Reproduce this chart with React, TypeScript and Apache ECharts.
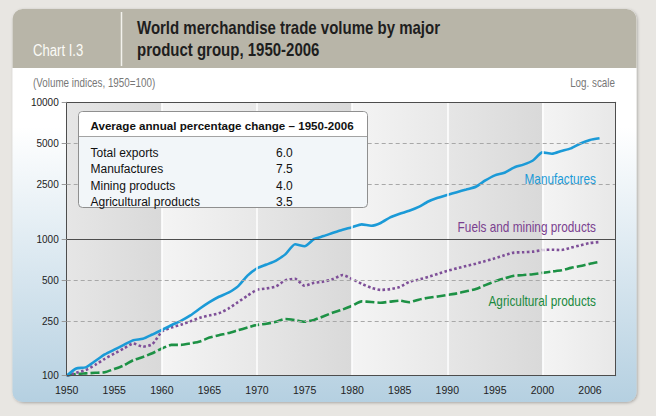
import React, { useEffect, useRef } from 'react';
import * as echarts from 'echarts';

const years = [
  1950, 1951, 1952, 1953, 1954, 1955, 1956, 1957, 1958, 1959,
  1960, 1961, 1962, 1963, 1964, 1965, 1966, 1967, 1968, 1969,
  1970, 1971, 1972, 1973, 1974, 1975, 1976, 1977, 1978, 1979,
  1980, 1981, 1982, 1983, 1984, 1985, 1986, 1987, 1988, 1989,
  1990, 1991, 1992, 1993, 1994, 1995, 1996, 1997, 1998, 1999,
  2000, 2001, 2002, 2003, 2004, 2005, 2006,
];

const manufactures = [
  100, 113, 115, 128, 143, 155, 168, 182, 186, 200,
  216, 234, 252, 276, 310, 345, 378, 405, 450, 540,
  610, 650, 695, 775, 915, 885, 1000, 1050, 1110, 1170,
  1220, 1280, 1250, 1310, 1440, 1530, 1610, 1720, 1880, 2000,
  2100, 2200, 2300, 2410, 2680, 2920, 3050, 3330, 3500, 3750,
  4300, 4200, 4400, 4600, 5000, 5300, 5450,
];

const fuelsMining = [
  100, 105, 110, 120, 133, 145, 158, 172, 163, 170,
  210, 225, 236, 250, 265, 276, 286, 310, 345, 385,
  425, 435, 450, 500, 512, 455, 478, 488, 510, 545,
  510, 470, 440, 424, 430, 445, 485, 505, 528, 555,
  585, 610, 635, 660, 690, 722, 760, 795, 800, 808,
  830, 835, 830, 865, 900, 935, 950,
];

const agricultural = [
  100, 103, 104, 105, 106, 112, 119, 130, 137, 146,
  158, 168, 168, 172, 178, 190, 198, 205, 215, 225,
  235, 240, 248, 260, 255, 248, 256, 272, 290, 305,
  325, 350, 346, 342, 348, 354, 345, 360, 372, 380,
  390, 400, 415, 430, 460, 490, 515, 538, 545, 552,
  565, 578, 590, 615, 635, 660, 680,
];

const yTicks = [100, 250, 500, 1000, 2500, 5000, 10000];
const yDashed = [250, 500, 2500, 5000];
const ySolid = [1000];
const xTickYears = [1950, 1955, 1960, 1965, 1970, 1975, 1980, 1985, 1990, 1995, 2000, 2005];
const xTickLabels = ['1950', '1955', '1960', '1965', '1970', '1975', '1980', '1985', '1990', '1995', '2000', '2006'];
const decadeStarts = [1950, 1960, 1970, 1980, 1990, 2000];
const X_MIN = 1950;
const X_MAX = 2007.7;

const statHeader = 'Average annual percentage change \u2013 1950-2006';
const statLabels = ['Total exports', 'Manufactures', 'Mining products', 'Agricultural products'];
const statValues = ['6.0', '7.5', '4.0', '3.5'];

const REG = "'Liberation Sans', Arial, sans-serif";
const NARROW_SCALE = 0.82;

const toPts = (vals: number[]) => vals.map((v, i) => [years[i], Math.log10(v)]);

function text(x: number, y: number, s: string, opts: any) {
  return {
    type: 'text',
    x,
    y,
    scaleX: opts.narrow ? NARROW_SCALE : 1,
    silent: true,
    z: opts.z ?? 5,
    style: {
      text: s,
      fill: opts.fill,
      fontFamily: REG,
      fontSize: opts.fontSize,
      fontWeight: opts.fontWeight ?? 'normal',
      align: opts.align ?? 'left',
      textAlign: opts.align ?? 'left',
      verticalAlign: 'middle',
      textVerticalAlign: 'middle',
    },
  };
}

export default function App() {
  const ref = useRef<HTMLDivElement>(null);

  useEffect(() => {
    if (!ref.current) return;
    const chart = echarts.init(ref.current, null, { renderer: 'svg' });

    const bandColors = (i: number) =>
      i % 2 === 0
        ? ['#e6e6e6', '#d9d9d9']
        : ['#f4f4f4', '#e8e8e8'];

    const bands = decadeStarts.map((s, i) => {
      const [c0, c1] = bandColors(i);
      return [
        {
          xAxis: s,
          itemStyle: {
            color: {
              type: 'linear', x: 0, y: 0, x2: 1, y2: 0,
              colorStops: [{ offset: 0, color: c0 }, { offset: 1, color: c1 }],
            },
          },
        },
        { xAxis: i + 1 < decadeStarts.length ? decadeStarts[i + 1] : X_MAX },
      ];
    });

    const lines: any[] = [];
    decadeStarts.slice(1).forEach((d) =>
      lines.push({ xAxis: d, lineStyle: { color: '#ffffff', width: 1.5, type: 'solid' } })
    );
    yDashed.forEach((v) =>
      lines.push({ yAxis: Math.log10(v), lineStyle: { color: '#a8a8a8', width: 1, type: [4, 3] } })
    );
    ySolid.forEach((v) =>
      lines.push({ yAxis: Math.log10(v), lineStyle: { color: '#4d4d4d', width: 1, type: 'solid' } })
    );

    const axisCommonY = {
      type: 'value',
      min: 2,
      max: 4,
      splitLine: { show: false },
    };

    const graphic: any[] = [
      {
        type: 'rect', z: 0, silent: true,
        shape: { x: 12.5, y: 9, width: 624, height: 393, r: 10 },
        style: {
          fill: {
            type: 'linear', x: 0, y: 0, x2: 0, y2: 1,
            colorStops: [
              { offset: 0, color: '#ffffff' },
              { offset: 0.3, color: '#ffffff' },
              { offset: 1, color: '#b5d0e1' },
            ],
          },
          shadowBlur: 3,
          shadowColor: 'rgba(0,0,0,0.28)',
          shadowOffsetX: 1,
          shadowOffsetY: 1,
        },
      },
      {
        type: 'rect', z: 0, silent: true,
        shape: { x: 12.5, y: 9, width: 624, height: 59, r: [10, 10, 0, 0] },
        style: { fill: '#b8b5a8' },
      },
      {
        type: 'line', z: 0, silent: true,
        shape: { x1: 121.5, y1: 12, x2: 121.5, y2: 66 },
        style: { stroke: '#f3f2ed', lineWidth: 1.5 },
      },
      text(33, 51, 'Chart I.3', { fill: '#fbfbf7', fontSize: 16, narrow: true }),
      text(137, 28, 'World merchandise trade volume by major', { fill: '#1e1e1e', fontSize: 18.3, fontWeight: 'bold', narrow: true }),
      text(137, 50, 'product group, 1950-2006', { fill: '#1e1e1e', fontSize: 18.3, fontWeight: 'bold', narrow: true }),
      text(33, 83, '(Volume indices, 1950=100)', { fill: '#777777', fontSize: 12, narrow: true }),
      text(615, 83, 'Log. scale', { fill: '#777777', fontSize: 12, align: 'right', narrow: true }),
      // stats box
      {
        type: 'rect', z: 20, silent: true,
        shape: { x: 78.5, y: 111.5, width: 289, height: 96, r: 4 },
        style: { fill: '#f2f6f9', stroke: '#8f8f8f', lineWidth: 1 },
      },
      {
        type: 'rect', z: 20, silent: true,
        shape: { x: 79, y: 112, width: 288, height: 24, r: [4, 4, 0, 0] },
        style: { fill: '#ffffff' },
      },
      {
        type: 'line', z: 20, silent: true,
        shape: { x1: 79, y1: 136.5, x2: 367, y2: 136.5 },
        style: { stroke: '#a3a3a3', lineWidth: 1 },
      },
      text(90.5, 125, statHeader, { fill: '#111111', fontSize: 11.6, fontWeight: 'bold', z: 21 }),
      ...statLabels.map((s, i) =>
        text(90.5, 153 + i * 16.3, s, { fill: '#111111', fontSize: 12, z: 21 })
      ),
      ...statValues.map((s, i) =>
        text(276, 153 + i * 16.3, s, { fill: '#111111', fontSize: 12, z: 21 })
      ),
      // series labels
      text(596, 179.5, 'Manufactures', { fill: '#1b9ad7', fontSize: 14.4, align: 'right', z: 21, narrow: true }),
      text(596, 227.5, 'Fuels and mining products', { fill: '#7a3f8f', fontSize: 14.4, align: 'right', z: 21, narrow: true }),
      text(596, 301.5, 'Agricultural products', { fill: '#1a8a3e', fontSize: 14.4, align: 'right', z: 21, narrow: true }),
    ];

    const option: any = {
      animation: false,
      backgroundColor: '#e8e6e2',
      grid: {
        left: 66.7,
        right: 40.3,
        top: 102.3,
        bottom: 40.3,
        containLabel: false,
        outerBoundsMode: 'none',
      },
      xAxis: [
        {
          type: 'value',
          min: X_MIN,
          max: X_MAX,
          z: 10,
          axisLine: { show: true, lineStyle: { color: '#4d4d4d', width: 1 } },
          axisTick: { show: false },
          splitLine: { show: false },
          axisLabel: {
            customValues: xTickYears,
            formatter: (v: number) => {
              const i = xTickYears.indexOf(Math.round(v));
              return i >= 0 ? xTickLabels[i] : '';
            },
            margin: 9,
            color: '#222222',
            fontFamily: REG,
            fontSize: 10.5,
          },
        },
        {
          type: 'value',
          position: 'top',
          min: X_MIN,
          max: X_MAX,
          z: 10,
          axisLine: { show: true, lineStyle: { color: '#4d4d4d', width: 1 } },
          axisTick: { show: false },
          axisLabel: { show: false },
          splitLine: { show: false },
        },
      ],
      yAxis: [
        {
          ...axisCommonY,
          z: 10,
          axisLine: { show: true, lineStyle: { color: '#4d4d4d', width: 1 } },
          axisTick: {
            show: true,
            customValues: yTicks.map((v) => Math.log10(v)),
            length: 5,
            lineStyle: { color: '#9a9a9a' },
          },
          axisLabel: {
            customValues: yTicks.map((v) => Math.log10(v)),
            formatter: (v: number) => String(Math.round(Math.pow(10, v))),
            margin: 8,
            color: '#222222',
            fontFamily: REG,
            fontSize: 10,
          },
        },
        {
          ...axisCommonY,
          position: 'right',
          z: 10,
          axisLine: { show: true, lineStyle: { color: '#4d4d4d', width: 1 } },
          axisTick: { show: false },
          axisLabel: { show: false },
        },
      ],
      graphic,
      series: [
        {
          type: 'line',
          name: 'background',
          z: 1,
          silent: true,
          data: toPts(manufactures),
          showSymbol: false,
          lineStyle: { opacity: 0 },
          markArea: { silent: true, data: bands },
          markLine: {
            silent: true,
            symbol: 'none',
            label: { show: false },
            data: lines,
          },
        },
        {
          type: 'line',
          name: 'Agricultural products',
          z: 3,
          data: toPts(agricultural),
          showSymbol: false,
          smooth: 0.2,
          lineStyle: { color: '#1d9145', width: 2.6, type: [9, 3] },
        },
        {
          type: 'line',
          name: 'Fuels and mining products',
          z: 3,
          data: toPts(fuelsMining),
          showSymbol: false,
          smooth: 0.2,
          lineStyle: { color: '#7e4f98', width: 2.6, type: [2.6, 2.4] },
        },
        {
          type: 'line',
          name: 'Manufactures',
          z: 4,
          data: toPts(manufactures),
          showSymbol: false,
          smooth: 0.2,
          lineStyle: { color: '#1b9ad7', width: 2.6 },
        },
      ],
    };

    chart.setOption(option);
    return () => chart.dispose();
  }, []);

  return (
    <div
      ref={ref}
      style={{ position: 'absolute', left: 0, top: 0, width: 656, height: 416 }}
    />
  );
}
